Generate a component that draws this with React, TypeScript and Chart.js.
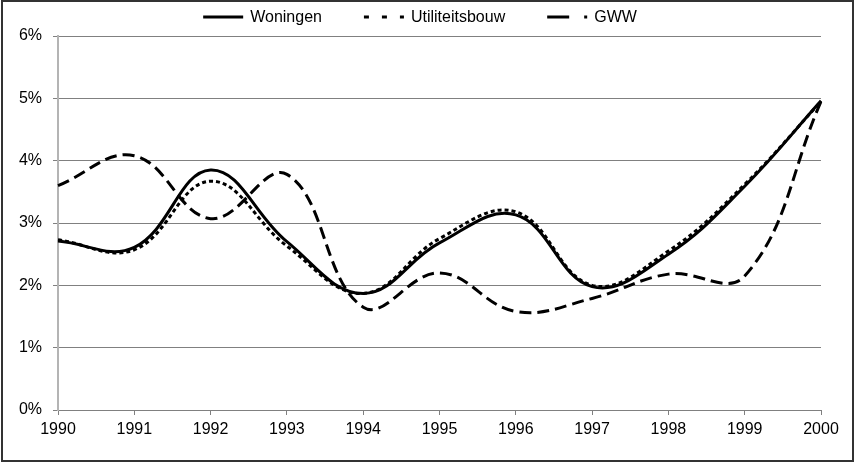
import React, { useEffect, useRef } from 'react';
import { Chart, registerables } from 'chart.js';

Chart.register(...registerables);

const years = ['1990', '1991', '1992', '1993', '1994', '1995', '1996', '1997', '1998', '1999', '2000'];
const woningen = [2.71, 2.61, 3.85, 2.7, 1.87, 2.68, 3.13, 1.98, 2.5, 3.59, 4.96];
const utiliteitsbouw = [2.73, 2.57, 3.67, 2.63, 1.87, 2.75, 3.18, 2.0, 2.55, 3.62, 4.95];
const gww = [3.6, 4.08, 3.07, 3.78, 1.65, 2.2, 1.58, 1.79, 2.18, 2.15, 4.95];
const seriesNames = ['Woningen', 'Utiliteitsbouw', 'GWW'];
const yMin = 0;
const yMax = 6;
const yStep = 1;

const FONT = '"Liberation Sans", Arial, Helvetica, sans-serif';

const lineDashes: number[][] = [[], [4, 3], [12, 6]];
const legendDashes: number[][] = [[], [5, 13], [22, 15]];

const legendPlugin = {
  id: 'customLegend',
  afterDraw(chart: any) {
    const ctx = chart.ctx as CanvasRenderingContext2D;
    ctx.save();
    ctx.font = `16px ${FONT}`;
    ctx.textBaseline = 'middle';
    ctx.fillStyle = '#000';
    const markerLen = 40;
    const textGap = 7;
    const itemGap = 42;
    const names: string[] = chart.data.datasets.map((d: any) => d.label);
    const widths = names.map((n) => ctx.measureText(n).width);
    const total = widths.reduce((a, w) => a + markerLen + textGap + w, 0) + itemGap * (names.length - 1);
    let x = 420 - total / 2;
    const y = 17;
    names.forEach((name, i) => {
      ctx.save();
      ctx.strokeStyle = '#000';
      ctx.lineWidth = 3;
      ctx.setLineDash(legendDashes[i]);
      ctx.beginPath();
      ctx.moveTo(x, y);
      ctx.lineTo(x + markerLen, y);
      ctx.stroke();
      ctx.restore();
      x += markerLen + textGap;
      ctx.fillText(name, x, y + 1);
      x += widths[i] + itemGap;
    });
    // outer frame
    ctx.strokeStyle = '#333';
    ctx.lineWidth = 2;
    ctx.setLineDash([]);
    ctx.strokeRect(2, 1, 851, 460);
    ctx.restore();
  },
};

export default function App() {
  const ref = useRef<HTMLCanvasElement | null>(null);

  useEffect(() => {
    document.body.style.margin = '0';
    const canvas = ref.current;
    if (!canvas) return;
    const seriesData = [woningen, utiliteitsbouw, gww];
    const chart = new Chart(canvas, {
      type: 'line',
      data: {
        labels: years,
        datasets: seriesNames.map((name, i) => ({
          label: name,
          data: seriesData[i],
          borderColor: '#000',
          backgroundColor: '#000',
          borderWidth: 3,
          borderDash: lineDashes[i],
          pointRadius: 0,
          pointHoverRadius: 0,
          tension: 0.4,
          fill: false,
        })),
      },
      options: {
        animation: false,
        responsive: false,
        maintainAspectRatio: false,
        layout: { padding: { top: 36, right: 35, bottom: 0, left: 0 } },
        plugins: {
          legend: { display: false },
          tooltip: { enabled: false },
        },
        scales: {
          x: {
            type: 'category',
            offset: false,
            afterFit: (scale: any) => {
              scale.height = 55;
            },
            grid: {
              drawOnChartArea: false,
              drawTicks: true,
              tickLength: 5,
              color: '#808080',
            },
            border: { display: true, color: '#808080', width: 1 },
            ticks: {
              color: '#000',
              font: { family: FONT, size: 16 },
              padding: 5,
              maxRotation: 0,
              autoSkip: false,
            },
          },
          y: {
            min: yMin,
            max: yMax,
            afterFit: (scale: any) => {
              scale.width = 58;
            },
            grid: {
              color: '#808080',
              lineWidth: 1,
              drawTicks: true,
              tickLength: 5,
            },
            border: { display: true, color: '#b4b4b4', width: 2 },
            ticks: {
              stepSize: yStep,
              color: '#000',
              font: { family: FONT, size: 16 },
              padding: 11,
              callback: (v: any) => `${v}%`,
            },
          },
        },
      },
      plugins: [legendPlugin],
    });
    return () => chart.destroy();
  }, []);

  return (
    <div style={{ position: 'absolute', left: 0, top: 0, width: 856, height: 465, background: '#fff' }}>
      <canvas ref={ref} width={856} height={465} style={{ width: 856, height: 465 }} />
    </div>
  );
}
